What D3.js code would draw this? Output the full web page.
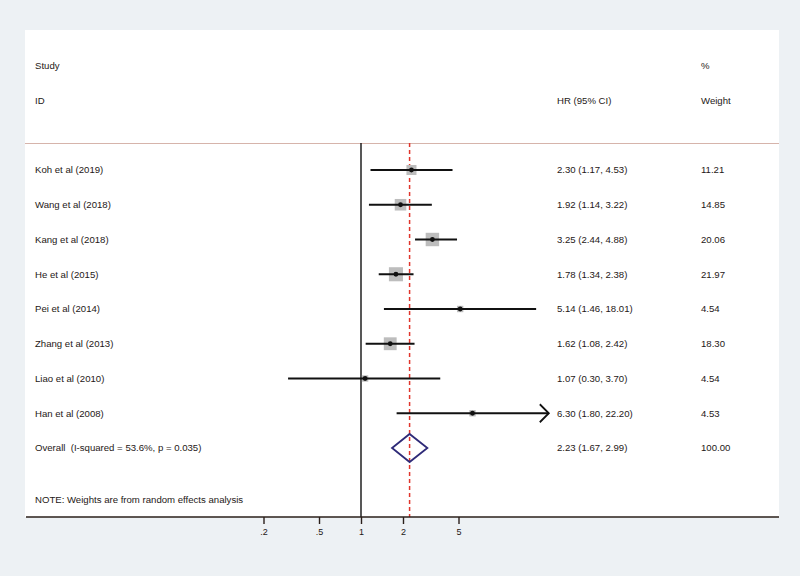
<!DOCTYPE html>
<html>
<head>
  <meta charset="utf-8">
  <title>Forest plot</title>
  <script src="https://cdnjs.cloudflare.com/ajax/libs/d3/7.8.5/d3.min.js"></script>
  <style>
    body { margin: 0; background: #edf1f4; }
    text { font-family: "Liberation Sans", Arial, sans-serif; fill: #1e1816; white-space: pre; }
  </style>
</head>
<body>
<div id="vis"></div>
<script>
var studies = ["Koh et al (2019)", "Wang et al (2018)", "Kang et al (2018)", "He et al (2015)",
               "Pei et al (2014)", "Zhang et al (2013)", "Liao et al (2010)", "Han et al (2008)"];
var hr     = [2.30, 1.92, 3.25, 1.78, 5.14, 1.62, 1.07, 6.30];
var lower  = [1.17, 1.14, 2.44, 1.34, 1.46, 1.08, 0.30, 1.80];
var upper  = [4.53, 3.22, 4.88, 2.38, 18.01, 2.42, 3.70, 22.20];
var weight = [11.21, 14.85, 20.06, 21.97, 4.54, 18.30, 4.54, 4.53];
var overallLabel = "Overall  (I-squared = 53.6%, p = 0.035)";
var overall = {hr: 2.23, lower: 1.67, upper: 2.99, weight: 100.00};
var tickVals = [0.2, 0.5, 1, 2, 5];
var tickLabels = [".2", ".5", "1", "2", "5"];

var W = 800, H = 576;
var svg = d3.select("#vis").append("svg").attr("width", W).attr("height", H);

var panelL = 25, panelR = 779, panelT = 30, axisY = 517;

svg.append("rect").attr("x", panelL).attr("y", panelT)
  .attr("width", panelR - panelL).attr("height", axisY - panelT).attr("fill", "#fff");

var x = d3.scaleLog().domain([0.2, 5]).range([263.5, 458.5]);
var y = d3.scaleLinear().domain([0, 8]).range([170, 448]);

var fmt = d3.format(".2f");
function ci(h, l, u) { return fmt(h) + " (" + fmt(l) + ", " + fmt(u) + ")"; }

// headers
var txtX = 35, hrX = 557, wX = 701;
function label(t, xx, yy) {
  return svg.append("text").attr("x", xx).attr("y", yy).attr("dy", "0.35em")
    .attr("font-size", 9.6).text(t);
}
label("Study", txtX, 66);
label("ID", txtX, 101);
label("HR (95% CI)", hrX, 101);
label("%", wX, 66);
label("Weight", wX, 101);

svg.append("line").attr("x1", panelL).attr("x2", panelR).attr("y1", 143.5).attr("y2", 143.5)
  .attr("stroke", "#d6b4ab").attr("stroke-width", 1);

// null line
svg.append("line").attr("x1", x(1)).attr("x2", x(1)).attr("y1", 143).attr("y2", axisY)
  .attr("stroke", "#111").attr("stroke-width", 1.4);

// overall dashed line
svg.append("line").attr("x1", x(overall.hr)).attr("x2", x(overall.hr)).attr("y1", 143).attr("y2", axisY)
  .attr("stroke", "#e0352c").attr("stroke-width", 1.5).attr("stroke-dasharray", "4,3");

var rows = studies.map(function(s, i) {
  return {name: s, hr: hr[i], lo: lower[i], hi: upper[i], w: weight[i], i: i};
});

var g = svg.append("g");
// weight squares
g.selectAll("rect.sq").data(rows).enter().append("rect")
  .attr("class", "sq")
  .attr("x", function(d) { return x(d.hr) - 1.5 * Math.sqrt(d.w); })
  .attr("y", function(d) { return y(d.i) - 1.5 * Math.sqrt(d.w); })
  .attr("width", function(d) { return 3 * Math.sqrt(d.w); })
  .attr("height", function(d) { return 3 * Math.sqrt(d.w); })
  .attr("fill", "#bdbdbd");

// CI lines
g.selectAll("line.ci").data(rows).enter().append("line")
  .attr("class", "ci")
  .attr("x1", function(d) { return x(d.lo); })
  .attr("x2", function(d) { return x(d.hi); })
  .attr("y1", function(d) { return y(d.i); })
  .attr("y2", function(d) { return y(d.i); })
  .attr("stroke", "#111").attr("stroke-width", 1.8);

// arrow on the last study (clipped CI)
var han = rows[7];
g.append("path")
  .attr("d", "M" + (x(han.hi) - 9) + "," + (y(han.i) - 9) + "L" + x(han.hi) + "," + y(han.i) +
             "L" + (x(han.hi) - 9) + "," + (y(han.i) + 9))
  .attr("fill", "none").attr("stroke", "#111").attr("stroke-width", 1.8);

g.selectAll("circle.pt").data(rows).enter().append("circle")
  .attr("class", "pt")
  .attr("cx", function(d) { return x(d.hr); })
  .attr("cy", function(d) { return y(d.i); })
  .attr("r", 2.4).attr("fill", "#111");

// labels
g.selectAll("text.name").data(rows).enter().append("text")
  .attr("x", txtX).attr("y", function(d) { return y(d.i); }).attr("dy", "0.35em")
  .attr("font-size", 9.6).text(function(d) { return d.name; });
g.selectAll("text.ci").data(rows).enter().append("text")
  .attr("x", hrX).attr("y", function(d) { return y(d.i); }).attr("dy", "0.35em")
  .attr("font-size", 9.6).text(function(d) { return ci(d.hr, d.lo, d.hi); });
g.selectAll("text.w").data(rows).enter().append("text")
  .attr("x", wX).attr("y", function(d) { return y(d.i); }).attr("dy", "0.35em")
  .attr("font-size", 9.6).text(function(d) { return fmt(d.w); });

// overall diamond
var oy = y(8);
svg.append("path")
  .attr("d", "M" + x(overall.lower) + "," + oy + "L" + x(overall.hr) + "," + (oy - 14) +
             "L" + x(overall.upper) + "," + oy + "L" + x(overall.hr) + "," + (oy + 14) + "Z")
  .attr("fill", "none").attr("stroke", "#2e2a78").attr("stroke-width", 1.8);
label(overallLabel, txtX, oy);
label(ci(overall.hr, overall.lower, overall.upper), hrX, oy);
label(fmt(overall.weight), wX, oy);

label("NOTE: Weights are from random effects analysis", txtX, 500);

// axis
svg.append("line").attr("x1", panelL + 1).attr("x2", panelR).attr("y1", axisY).attr("y2", axisY)
  .attr("stroke", "#2a1f1a").attr("stroke-width", 1.4);
var axis = d3.axisBottom(x).tickValues(tickVals).tickSize(7)
  .tickFormat(function(d, i) { return tickLabels[i]; });
var ag = svg.append("g").attr("transform", "translate(0," + axisY + ")").call(axis);
ag.select(".domain").remove();
ag.selectAll("line").attr("stroke", "#2a1f1a").attr("stroke-width", 1.4);
ag.selectAll("text").attr("font-size", 9).attr("font-family", "Liberation Sans, Arial, sans-serif")
  .attr("fill", "#2a2220").attr("dy", "0.9em");
</script>
</body>
</html>
